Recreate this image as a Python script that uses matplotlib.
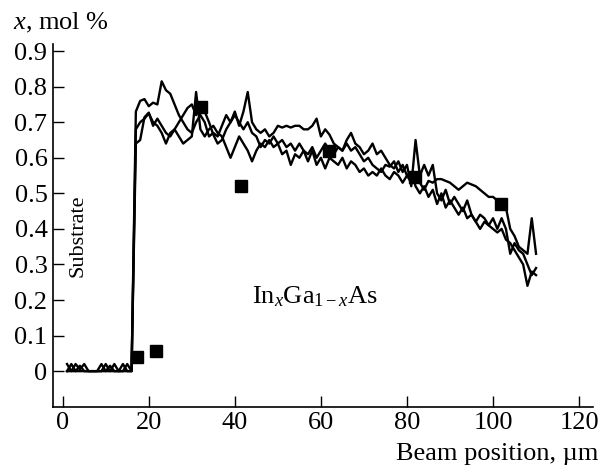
import numpy as np
import matplotlib
matplotlib.use("Agg")
import matplotlib.pyplot as plt

plt.rcParams["font.family"] = ["Liberation Serif", "DejaVu Serif"]
plt.rcParams["mathtext.fontset"] = "custom"
plt.rcParams["mathtext.rm"] = "Liberation Serif"
plt.rcParams["mathtext.it"] = "Liberation Serif:italic"

# beam position, um
pos = list(range(1, 111))

# three measured profiles (x in InxGa1-xAs)
base_a = [0, 0, 0, 0, 0, 0, 0, 0, 0, 0, 0, 0, 0, 0, 0, 0]
base_b = [0.02, 0.0, 0.02, 0.005, 0.02, 0.0, 0, 0, 0.0, 0.02, 0, 0.02, 0.0, 0, 0.02, 0.0]
base_c = [0, 0.02, 0, 0.015, 0, 0, 0, 0, 0.02, 0, 0.015, 0, 0, 0.02, 0.0, 0.0]

prof_a = [0.73, 0.76, 0.765, 0.745, 0.755, 0.75, 0.815, 0.79, 0.78, 0.75,
          0.72, 0.70, 0.68, 0.67, 0.70, 0.72, 0.70, 0.66, 0.67, 0.66,
          0.69, 0.72, 0.70, 0.73, 0.69, 0.73, 0.785, 0.70, 0.68, 0.67,
          0.68, 0.66, 0.67, 0.69, 0.685, 0.69, 0.685, 0.69, 0.69, 0.68,
          0.68, 0.69, 0.71, 0.66, 0.68, 0.665, 0.64, 0.63, 0.62, 0.64,
          0.62, 0.63, 0.61, 0.59, 0.60, 0.58, 0.57, 0.56, 0.58, 0.575,
          0.59, 0.56, 0.58, 0.55, 0.53, 0.54, 0.53, 0.51, 0.535, 0.53,
          0.54, 0.54, 0.535, 0.53, 0.52, 0.51, 0.52, 0.53, 0.525, 0.52,
          0.51, 0.50, 0.49, 0.49, 0.48, 0.47, 0.46, 0.40, 0.38, 0.35,
          0.34, 0.33, 0.43, 0.33]
prof_b = [0.68, 0.70, 0.71, 0.725, 0.70, 0.69, 0.67, 0.64, 0.67, 0.68,
          0.70, 0.72, 0.74, 0.75, 0.72, 0.75, 0.73, 0.70, 0.665, 0.64,
          0.65, 0.68, 0.70, 0.72, 0.70, 0.68, 0.70, 0.67, 0.66, 0.63,
          0.65, 0.64, 0.66, 0.64, 0.65, 0.63, 0.64, 0.62, 0.64, 0.62,
          0.61, 0.63, 0.60, 0.62, 0.64, 0.62, 0.61, 0.63, 0.62, 0.65,
          0.67, 0.64, 0.63, 0.61, 0.62, 0.64, 0.61, 0.62, 0.60, 0.58,
          0.57, 0.59, 0.56, 0.58, 0.52, 0.65, 0.55, 0.58, 0.55, 0.58,
          0.50, 0.48, 0.51, 0.47, 0.49, 0.47, 0.45, 0.48, 0.44, 0.42,
          0.44, 0.43, 0.41, 0.43, 0.40, 0.43, 0.40, 0.33, 0.36, 0.34,
          0.33, 0.30, 0.27, 0.29]
prof_c = [0.64, 0.65, 0.714, 0.727, 0.69, 0.71, 0.69, 0.67, 0.66, 0.68,
          0.66, 0.64, 0.65, 0.66, 0.785, 0.68, 0.66, 0.68, 0.69, 0.67,
          0.66, 0.63, 0.60, 0.63, 0.66, 0.64, 0.62, 0.59, 0.62, 0.64,
          0.63, 0.65, 0.63, 0.64, 0.61, 0.62, 0.58, 0.61, 0.60, 0.62,
          0.59, 0.62, 0.58, 0.60, 0.57, 0.60, 0.59, 0.58, 0.60, 0.57,
          0.59, 0.58, 0.56, 0.57, 0.55, 0.56, 0.55, 0.57, 0.55, 0.54,
          0.56, 0.55, 0.53, 0.55, 0.56, 0.52, 0.50, 0.52, 0.49, 0.51,
          0.47, 0.50, 0.46, 0.48, 0.46, 0.44, 0.46, 0.43, 0.44, 0.42,
          0.40, 0.42, 0.41, 0.40, 0.39, 0.40, 0.37, 0.36, 0.34, 0.32,
          0.30, 0.24, 0.28, 0.27]

# point measurements (squares)
sq_x = [17.3, 21.7, 32.1, 41.4, 61.9, 81.8, 101.8]
sq_y = [0.039, 0.056, 0.744, 0.52, 0.62, 0.545, 0.47]

xticks = [0, 20, 40, 60, 80, 100, 120]
yticks = [0, 0.1, 0.2, 0.3, 0.4, 0.5, 0.6, 0.7, 0.8, 0.9]
ylabels = ["0", "0.1", "0.2", "0.3", "0.4", "0.5", "0.6", "0.7", "0.8", "0.9"]

fig = plt.figure(figsize=(6.08, 4.71), dpi=100)
ax = fig.add_axes([0.0872, 0.1365, 0.8886, 0.7701])

for base, prof in [(base_a, prof_a), (base_b, prof_b), (base_c, prof_c)]:
    ax.plot(pos, base + prof, color="black", lw=1.7)
ax.plot(sq_x, sq_y, "s", color="black", ms=9)

ax.set_xlim(-2.25, 123.3)
ax.set_ylim(-0.1, 0.92)
ax.set_xticks(xticks)
ax.set_yticks(yticks)
ax.set_yticklabels(ylabels)
ax.tick_params(direction="in", length=8, width=1, labelsize=19, pad=4)
for s in ["top", "right"]:
    ax.spines[s].set_visible(False)
for s in ["left", "bottom"]:
    ax.spines[s].set_linewidth(1.2)

ax.text(3.5, 0.38, "Substrate", rotation=90, ha="center", va="center", fontsize=16)
ax.text(44, 0.21, r"In$_{x}$Ga$_{1-x}$As", ha="left", va="center", fontsize=19)
fig.text(0.021, 0.951, r"$x$, mol %", ha="left", va="center", fontsize=19)
fig.text(0.984, 0.036, "Beam position, µm", ha="right", va="center", fontsize=19)

fig.savefig("out.png", dpi=100)
